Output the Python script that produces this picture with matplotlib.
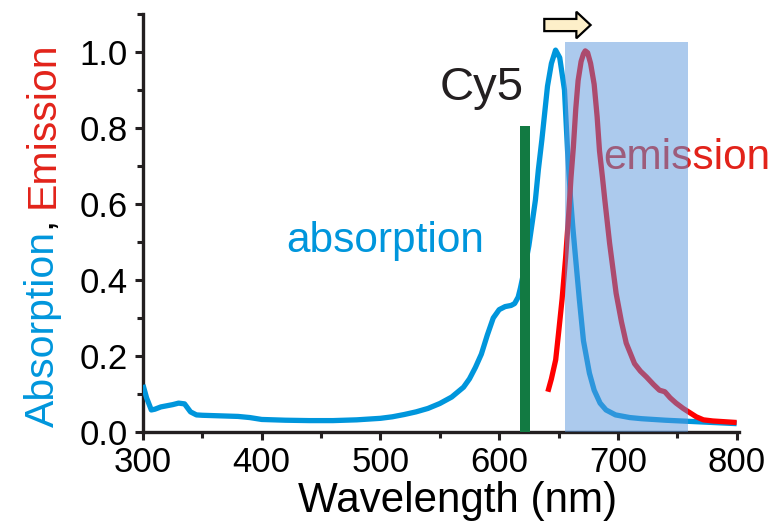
import numpy
import matplotlib
matplotlib.use('Agg')
from matplotlib.backends.backend_agg import FigureCanvasAgg as FigureCanvas
from matplotlib.figure import Figure
from matplotlib.patches import Rectangle, FancyArrow
from matplotlib.ticker import MultipleLocator

matplotlib.rcParams['font.family'] = ['Liberation Sans', 'DejaVu Sans']

# absorption spectrum of Cy5 (normalised)
abs_nm = [300, 303, 307, 310, 315, 320, 325, 330, 335, 340, 345, 350, 360, 370,
          380, 390, 400, 420, 440, 460, 480, 500, 510, 520, 530, 540, 550, 560,
          570, 575, 580, 585, 590, 595, 600, 605, 610, 613, 616, 618, 620, 622,
          625, 628, 630.5, 633, 636, 640.7, 644, 647.5, 651, 655, 657.6, 660, 662,
          664, 667.5, 671, 676, 680, 685, 690, 698, 710, 720, 740, 760, 780, 800]
abs_val = [0.124, 0.090, 0.058, 0.060, 0.066, 0.069, 0.072, 0.076, 0.074, 0.053,
           0.045, 0.044, 0.043, 0.042, 0.041, 0.038, 0.033, 0.031, 0.030, 0.030,
           0.032, 0.036, 0.040, 0.046, 0.053, 0.062, 0.075, 0.092, 0.118, 0.140,
           0.170, 0.205, 0.255, 0.300, 0.322, 0.330, 0.333, 0.338, 0.355, 0.380,
           0.410, 0.440, 0.490, 0.555, 0.610, 0.690, 0.770, 0.910, 0.970, 1.005,
           0.985, 0.900, 0.740, 0.620, 0.540, 0.470, 0.350, 0.240, 0.155, 0.110,
           0.076, 0.058, 0.045, 0.038, 0.035, 0.031, 0.028, 0.025, 0.022]

# emission spectrum of Cy5 (normalised)
em_nm = [641, 644, 647.6, 650, 653, 656, 658.5, 660.5, 662.5, 664.5, 666.5, 669,
         671, 672.5, 674.5, 677, 680, 682.5, 684.5, 687, 689, 693, 698.5, 703, 707,
         714, 719, 724, 730, 735, 739.5, 744, 749, 755, 761, 766, 772, 780, 790, 800]
em_val = [0.106, 0.140, 0.190, 0.260, 0.350, 0.460, 0.570, 0.670, 0.750, 0.850,
          0.925, 0.975, 0.995, 1.003, 0.998, 0.970, 0.915, 0.830, 0.740, 0.670,
          0.610, 0.497, 0.365, 0.290, 0.234, 0.180, 0.160, 0.145, 0.125, 0.110,
          0.106, 0.090, 0.076, 0.062, 0.050, 0.040, 0.032, 0.029, 0.027, 0.025]

laser_nm = 622
laser_height = 0.805
filter_band = (655.6, 759)
filter_top = 1.026

BLUE = '#0096dc'
RED = '#ff0000'
TEXT_RED = '#e2231a'
GREEN = '#127a42'

fig = Figure(figsize=(7.75, 5.23), dpi=100)
FigureCanvas(fig)  # needed for savefig and renderer
axes = fig.add_axes([143 / 775, 91 / 523, 596 / 775, 418 / 523])

axes.plot(abs_nm, abs_val, color=BLUE, lw=3.8, solid_capstyle='butt',
          solid_joinstyle='round', zorder=3)
axes.plot(em_nm, em_val, color=RED, lw=3.8, solid_capstyle='butt',
          solid_joinstyle='round', zorder=3)

axes.bar([laser_nm], [laser_height], width=8.5, color=GREEN, zorder=4)

axes.add_patch(Rectangle((filter_band[0], 0), filter_band[1] - filter_band[0],
                         filter_top, facecolor='#5a96dc', alpha=0.5,
                         edgecolor='none', zorder=6))

axes.add_patch(FancyArrow(638, 1.071, 39, 0, width=0.032, head_width=0.07,
                          head_length=12, length_includes_head=True,
                          facecolor='#fdefc9', edgecolor='black', lw=1.6,
                          zorder=8, clip_on=False))

axes.text(549.5, 0.874, 'Cy5', fontsize=34, color='#231f20', ha='left',
          va='baseline', zorder=7)
axes.text(420.5, 0.474, 'absorption', fontsize=30.5, color=BLUE, ha='left',
          va='baseline', zorder=7)
axes.text(688, 0.693, 'emission', fontsize=30.5, color=TEXT_RED, ha='left',
          va='baseline', zorder=5)

axes.set_xlim(300, 802)
axes.set_ylim(0, 1.1)
axes.xaxis.set_major_locator(MultipleLocator(100))
axes.xaxis.set_minor_locator(MultipleLocator(50))
axes.yaxis.set_major_locator(MultipleLocator(0.2))
axes.yaxis.set_minor_locator(MultipleLocator(0.1))
axes.yaxis.set_major_formatter(matplotlib.ticker.FormatStrFormatter('%.1f'))

for side in ('top', 'right'):
    axes.spines[side].set_visible(False)
for side in ('left', 'bottom'):
    axes.spines[side].set_linewidth(2.4)
    axes.spines[side].set_color('#231f20')

axes.tick_params(which='major', direction='out', length=6, width=2.2,
                 labelsize=25, color='#231f20')
axes.tick_params(which='minor', direction='out', length=4, width=2.2,
                 color='#231f20')
axes.tick_params(axis='x', which='major', pad=4)
axes.tick_params(axis='y', which='major', pad=5)

fig.text(458 / 775, 11 / 523, 'Wavelength (nm)', fontsize=30.3, ha='center',
         va='baseline', color='black')

# two-coloured y label, built piece by piece
renderer = fig.canvas.get_renderer()
x_base = 54 / 775
y_pos = (523 - 427) / 523
for piece, colour in (('Absorption', BLUE), (', ', 'black'), ('Emission', TEXT_RED)):
    txt = fig.text(x_base, y_pos, piece, fontsize=29.5, color=colour, rotation=90,
                   rotation_mode='anchor', ha='left', va='baseline')
    bbox = txt.get_window_extent(renderer)
    y_pos = fig.transFigure.inverted().transform((0, bbox.y1))[1]

fig.savefig('out.png', dpi=100)
